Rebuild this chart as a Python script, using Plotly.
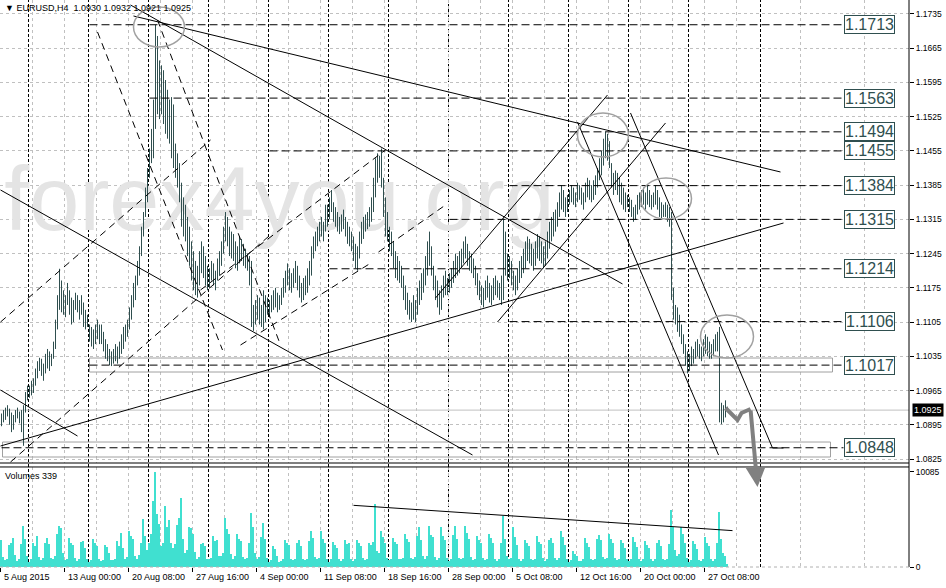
import plotly.graph_objects as go

# EURUSD H4 bars, bar 0 = 5 Aug 2015 16:00, last bar = 29 Oct 2015 04:00
highs = [
    1.0918, 1.0925,
    1.0930, 1.0935, 1.0928, 1.0920, 1.0915, 1.0925,
    1.0930, 1.0922, 1.0925, 1.0935, 1.0962, 1.0975,
    # week 10 Aug
    1.0975, 1.0985, 1.0990, 1.1010, 1.1025, 1.1032,
    1.1030, 1.1020, 1.1040, 1.1050, 1.1045, 1.1040,
    1.1065, 1.1110, 1.1160, 1.1214, 1.1190, 1.1170,
    1.1160, 1.1185, 1.1170, 1.1155, 1.1150, 1.1165,
    1.1160, 1.1150, 1.1160, 1.1145, 1.1130, 1.1120,
    # week 17 Aug
    1.1100, 1.1095, 1.1090, 1.1100, 1.1110, 1.1100,
    1.1100, 1.1085, 1.1070, 1.1060, 1.1050, 1.1045,
    1.1050, 1.1060, 1.1055, 1.1065, 1.1080, 1.1095,
    1.1100, 1.1110, 1.1135, 1.1160, 1.1185, 1.1200,
    1.1230, 1.1260, 1.1300, 1.1330, 1.1380, 1.1420,
    # week 24 Aug
    1.1460, 1.1500, 1.1560, 1.1713, 1.1690, 1.1640,
    1.1630, 1.1620, 1.1600, 1.1580, 1.1560, 1.1565,
    1.1550, 1.1470, 1.1450, 1.1430, 1.1390, 1.1360,
    1.1345, 1.1320, 1.1300, 1.1270, 1.1250, 1.1230,
    1.1220, 1.1250, 1.1270, 1.1260, 1.1240, 1.1220,
    # week 31 Aug
    1.1215, 1.1230, 1.1225, 1.1210, 1.1235, 1.1250,
    1.1270, 1.1300, 1.1330, 1.1320, 1.1300, 1.1290,
    1.1285, 1.1270, 1.1260, 1.1280, 1.1275, 1.1265,
    1.1255, 1.1245, 1.1240, 1.1230, 1.1140, 1.1150,
    1.1160, 1.1155, 1.1140, 1.1170, 1.1160, 1.1155,
    # week 7 Sep
    1.1150, 1.1160, 1.1170, 1.1175, 1.1165, 1.1160,
    1.1175, 1.1195, 1.1210, 1.1225, 1.1215, 1.1205,
    1.1215, 1.1230, 1.1220, 1.1200, 1.1185, 1.1195,
    1.1200, 1.1215, 1.1230, 1.1260, 1.1280, 1.1290,
    1.1300, 1.1310, 1.1320, 1.1310, 1.1345, 1.1345,
    # week 14 Sep
    1.1360, 1.1375, 1.1350, 1.1340, 1.1330, 1.1320,
    1.1325, 1.1335, 1.1320, 1.1310, 1.1300, 1.1290,
    1.1280, 1.1265, 1.1260, 1.1290, 1.1310, 1.1320,
    1.1325, 1.1330, 1.1340, 1.1360, 1.1400, 1.1440,
    1.1450, 1.1445, 1.1460, 1.1400, 1.1360, 1.1330,
    # week 21 Sep
    1.1300, 1.1290, 1.1270, 1.1250, 1.1240, 1.1230,
    1.1220, 1.1200, 1.1180, 1.1165, 1.1150, 1.1145,
    1.1160, 1.1150, 1.1175, 1.1190, 1.1205, 1.1215,
    1.1240, 1.1270, 1.1290, 1.1260, 1.1220, 1.1200,
    1.1190, 1.1170, 1.1180, 1.1200, 1.1210, 1.1195,
    # week 28 Sep
    1.1205, 1.1215, 1.1230, 1.1245, 1.1240, 1.1250,
    1.1255, 1.1270, 1.1280, 1.1265, 1.1250, 1.1245,
    1.1235, 1.1220, 1.1205, 1.1190, 1.1180, 1.1175,
    1.1190, 1.1200, 1.1185, 1.1180, 1.1195, 1.1200,
    1.1190, 1.1185, 1.1200, 1.1317, 1.1290, 1.1245,
    # week 5 Oct
    1.1240, 1.1230, 1.1210, 1.1200, 1.1215, 1.1230,
    1.1240, 1.1255, 1.1270, 1.1280, 1.1275, 1.1265,
    1.1255, 1.1270, 1.1285, 1.1280, 1.1270, 1.1260,
    1.1270, 1.1290, 1.1310, 1.1320, 1.1330, 1.1335,
    1.1350, 1.1370, 1.1385, 1.1375, 1.1360, 1.1365,
    # week 12 Oct
    1.1375, 1.1385, 1.1380, 1.1370, 1.1390, 1.1385,
    1.1380, 1.1370, 1.1390, 1.1400, 1.1395, 1.1385,
    1.1395, 1.1405, 1.1420, 1.1440, 1.1455, 1.1480,
    1.1495, 1.1490, 1.1475, 1.1430, 1.1410, 1.1415,
    1.1410, 1.1400, 1.1390, 1.1380, 1.1370, 1.1365,
    # week 19 Oct
    1.1360, 1.1355, 1.1340, 1.1345, 1.1365, 1.1370,
    1.1375, 1.1380, 1.1370, 1.1385, 1.1375, 1.1365,
    1.1370, 1.1385, 1.1375, 1.1360, 1.1350, 1.1345,
    1.1350, 1.1345, 1.1340, 1.1330, 1.1175, 1.1140,
    1.1135, 1.1120, 1.1100, 1.1080, 1.1060, 1.1045,
    # week 26 Oct
    1.1040, 1.1055, 1.1050, 1.1065, 1.1070, 1.1060,
    1.1055, 1.1070, 1.1080, 1.1075, 1.1065, 1.1060,
    1.1070, 1.1080, 1.1085, 1.1095, 1.0940, 1.0935,
    1.0945, 1.0932,
]

lows = [
    1.0892, 1.0900,
    1.0905, 1.0912, 1.0895, 1.0880, 1.0885, 1.0900,
    1.0908, 1.0898, 1.0880, 1.0852, 1.0920, 1.0945,
    # week 10 Aug
    1.0950, 1.0955, 1.0960, 1.0975, 1.0990, 1.1005,
    1.0995, 1.0985, 1.1000, 1.1010, 1.1005, 1.1015,
    1.1030, 1.1050, 1.1090, 1.1130, 1.1125, 1.1120,
    1.1115, 1.1140, 1.1120, 1.1100, 1.1105, 1.1130,
    1.1125, 1.1110, 1.1120, 1.1095, 1.1090, 1.1095,
    # week 17 Aug
    1.1065, 1.1055, 1.1050, 1.1060, 1.1070, 1.1060,
    1.1060, 1.1045, 1.1030, 1.1025, 1.1017, 1.1015,
    1.1020, 1.1025, 1.1020, 1.1030, 1.1040, 1.1050,
    1.1065, 1.1075, 1.1090, 1.1110, 1.1135, 1.1150,
    1.1180, 1.1200, 1.1240, 1.1280, 1.1320, 1.1350,
    # week 24 Aug
    1.1400, 1.1430, 1.1440, 1.1500, 1.1530, 1.1520,
    1.1530, 1.1510, 1.1490, 1.1480, 1.1470, 1.1440,
    1.1420, 1.1400, 1.1380, 1.1350, 1.1300, 1.1280,
    1.1270, 1.1240, 1.1220, 1.1190, 1.1170, 1.1160,
    1.1155, 1.1180, 1.1205, 1.1195, 1.1180, 1.1170,
    # week 31 Aug
    1.1175, 1.1190, 1.1180, 1.1170, 1.1190, 1.1200,
    1.1220, 1.1245, 1.1270, 1.1260, 1.1240, 1.1235,
    1.1230, 1.1215, 1.1210, 1.1225, 1.1230, 1.1220,
    1.1215, 1.1210, 1.1180, 1.1095, 1.1087, 1.1100,
    1.1110, 1.1100, 1.1095, 1.1090, 1.1105, 1.1120,
    # week 7 Sep
    1.1115, 1.1125, 1.1130, 1.1135, 1.1125, 1.1130,
    1.1140, 1.1155, 1.1165, 1.1180, 1.1170, 1.1165,
    1.1175, 1.1185, 1.1170, 1.1155, 1.1145, 1.1150,
    1.1160, 1.1165, 1.1180, 1.1200, 1.1235, 1.1250,
    1.1260, 1.1270, 1.1280, 1.1270, 1.1290, 1.1300,
    # week 14 Sep
    1.1315, 1.1330, 1.1310, 1.1300, 1.1290, 1.1285,
    1.1290, 1.1295, 1.1280, 1.1265, 1.1260, 1.1250,
    1.1230, 1.1215, 1.1210, 1.1235, 1.1265, 1.1275,
    1.1290, 1.1295, 1.1300, 1.1310, 1.1330, 1.1360,
    1.1390, 1.1400, 1.1380, 1.1320, 1.1280, 1.1270,
    # week 21 Sep
    1.1250, 1.1240, 1.1215, 1.1195, 1.1190, 1.1185,
    1.1175, 1.1150, 1.1130, 1.1120, 1.1110, 1.1105,
    1.1110, 1.1105, 1.1120, 1.1140, 1.1150, 1.1165,
    1.1180, 1.1200, 1.1220, 1.1200, 1.1170, 1.1150,
    1.1135, 1.1120, 1.1130, 1.1155, 1.1160, 1.1160,
    # week 28 Sep
    1.1165, 1.1175, 1.1185, 1.1195, 1.1200, 1.1205,
    1.1215, 1.1225, 1.1235, 1.1220, 1.1210, 1.1205,
    1.1195, 1.1180, 1.1160, 1.1150, 1.1140, 1.1135,
    1.1150, 1.1155, 1.1145, 1.1140, 1.1150, 1.1160,
    1.1155, 1.1150, 1.1140, 1.1150, 1.1200, 1.1190,
    # week 5 Oct
    1.1195, 1.1180, 1.1170, 1.1160, 1.1170, 1.1185,
    1.1195, 1.1205, 1.1215, 1.1230, 1.1225, 1.1220,
    1.1210, 1.1220, 1.1235, 1.1230, 1.1225, 1.1215,
    1.1220, 1.1235, 1.1255, 1.1270, 1.1280, 1.1290,
    1.1300, 1.1320, 1.1335, 1.1330, 1.1320, 1.1330,
    # week 12 Oct
    1.1345, 1.1350, 1.1345, 1.1340, 1.1350, 1.1355,
    1.1345, 1.1335, 1.1350, 1.1360, 1.1355, 1.1350,
    1.1355, 1.1365, 1.1380, 1.1395, 1.1405, 1.1425,
    1.1440, 1.1435, 1.1420, 1.1380, 1.1365, 1.1375,
    1.1365, 1.1350, 1.1345, 1.1335, 1.1330, 1.1340,
    # week 19 Oct
    1.1330, 1.1320, 1.1310, 1.1315, 1.1325, 1.1335,
    1.1340, 1.1345, 1.1335, 1.1345, 1.1340, 1.1335,
    1.1340, 1.1345, 1.1335, 1.1320, 1.1315, 1.1320,
    1.1320, 1.1310, 1.1300, 1.1150, 1.1110, 1.1100,
    1.1085, 1.1075, 1.1060, 1.1040, 1.1016, 1.1000,
    # week 26 Oct
    1.1005, 1.1015, 1.1020, 1.1030, 1.1035, 1.1030,
    1.1025, 1.1035, 1.1040, 1.1035, 1.1030, 1.1030,
    1.1035, 1.1045, 1.1045, 1.0900, 1.0896, 1.0900,
    1.0910, 1.0921,
]

volumes = [
    2900, 1100,
    700, 900, 2300, 2600, 3100, 1300,
    600, 800, 2400, 4400, 3000, 1200,
    500, 900, 2500, 2200, 3300, 1100,
    700, 1000, 2600, 3100, 2400, 1000,
    800, 1200, 3500, 4400, 4100, 1500,
    700, 900, 3100, 2500, 2300, 1000,
    600, 800, 2700, 2800, 2000, 800,
    500, 700, 3000, 2500, 2200, 900,
    600, 700, 2300, 2100, 1500, 700,
    700, 900, 2800, 2200, 3600, 2000,
    800, 1100, 3800, 3300, 3000, 1200,
    900, 1300, 2500, 5100, 3300, 1800,
    2600, 3500, 7000, 10085, 5600, 4600,
    2200, 2600, 6500, 4200, 5000, 2500,
    2000, 2400, 4500, 5200, 7300, 3000,
    1500, 1800, 4300, 4100, 3500, 1600,
    900, 1100, 2400, 2600, 2200, 900,
    800, 1000, 3300, 2800, 2900, 1200,
    1200, 1500, 5200, 4000, 3500, 1400,
    900, 1200, 3500, 3000, 2800, 1100,
    800, 1000, 2500, 5700, 4200, 1500,
    900, 1100, 3200, 4700, 3000, 1000,
    500, 700, 2200, 1900, 1200, 500,
    600, 800, 2900, 2500, 2300, 900,
    700, 900, 2600, 2900, 2200, 900,
    700, 900, 2800, 3800, 3100, 1100,
    800, 1000, 3800, 3000, 2600, 900,
    500, 800, 2700, 2300, 2000, 800,
    600, 800, 2900, 2400, 2500, 900,
    600, 900, 2900, 2500, 2200, 1000,
    700, 900, 2500, 2300, 2700, 6700,
    1700, 1500, 3800, 3200, 2600, 1000,
    700, 900, 3100, 2700, 2400, 900,
    800, 1000, 3500, 3000, 2700, 1000,
    800, 1100, 3300, 4200, 2900, 1200,
    900, 1200, 4400, 3400, 3200, 1100,
    700, 1000, 4200, 3300, 2900, 1000,
    600, 900, 3400, 4400, 3000, 1000,
    800, 1000, 4400, 3600, 3000, 1100,
    700, 900, 3300, 2900, 2600, 1000,
    700, 900, 3500, 3100, 2500, 900,
    600, 800, 2600, 5400, 3000, 1200,
    800, 1000, 4200, 3200, 2300, 900,
    600, 900, 2900, 2600, 2200, 900,
    700, 900, 3300, 2700, 2400, 1000,
    600, 900, 2900, 3100, 2500, 1000,
    700, 1000, 3800, 3200, 2300, 900,
    500, 700, 1700, 1400, 1200, 600,
    600, 900, 3100, 2600, 2100, 800,
    700, 900, 3000, 3350, 2900, 1100,
    800, 1000, 3550, 3000, 2600, 1000,
    700, 900, 2900, 2500, 2000, 800,
    600, 800, 3200, 2700, 2100, 800,
    600, 800, 2750, 2300, 2000, 800,
    600, 800, 2500, 2850, 2200, 900,
    700, 900, 2400, 6100, 4200, 1800,
    1200, 1400, 4200, 3500, 2600, 1000,
    500, 700, 2800, 2400, 1900, 700,
    600, 800, 3200, 2600, 2200, 800,
    600, 800, 2600, 5850, 3000, 1500,
    1200, 339,
]

price_ticks = [1.0825, 1.0895, 1.0965, 1.1035, 1.1105, 1.1175, 1.1245,
               1.1315, 1.1385, 1.1455, 1.1525, 1.1595, 1.1665, 1.1735]
time_label_bars = [0, 32, 64, 96, 128, 160, 192, 224, 256, 288, 320, 352]
time_labels = ["5 Aug 2015", "13 Aug 00:00", "20 Aug 08:00", "27 Aug 16:00",
               "4 Sep 00:00", "11 Sep 08:00", "18 Sep 16:00", "28 Sep 00:00",
               "5 Oct 08:00", "12 Oct 16:00", "20 Oct 00:00", "27 Oct 08:00"]
week_sep_bars = [14, 44, 74, 104, 134, 164, 194, 224, 254, 284, 314, 344, 380]

levels = [1.1713, 1.1563, 1.1494, 1.1455, 1.1384, 1.1315, 1.1214, 1.1106, 1.1017, 1.0848]
level_start = [44, 74, 284, 134, 254, 224, 164, 254, 44, 0]
level_end = 421
zones = [(44, 415.5, 1.10029, 1.10315), (0.5, 414.5, 1.08291, 1.08597)]

# trend lines: (bar1, price1, bar2, price2)
trend_solid = [
    (66, 1.17309, 389.5, 1.14119),
    (64.5, 1.17534, 310.5, 1.11829),
    (-0.5, 1.08516, 391, 1.13076),
    (-0.5, 1.13751, 235.5, 1.08332),
    (-0.5, 1.09661, 38, 1.08720),
    (217, 1.11542, 303, 1.15694),
    (248, 1.11051, 332, 1.15121),
    (288, 1.15141, 358.5, 1.08332),
    (314.5, 1.15326, 385.5, 1.08475),
    (385.5, 1.08475, 391, 1.08475),
]
trend_dashed = [
    (48, 1.16982, 110.5, 1.10479),
    (78, 1.17227, 139.5, 1.10581),
    (-0.5, 1.11051, 104.5, 1.14773),
    (4.5, 1.08188, 135.5, 1.12872),
    (119.5, 1.10581, 185.5, 1.12279),
    (99.5, 1.11706, 192, 1.14569),
    (188.5, 1.12483, 222, 1.13444),
]
circles = [
    (66, 91.5, 1.16675, 1.17493),
    (288, 313.5, 1.14426, 1.15326),
    (319.5, 345, 1.13158, 1.13996),
    (349.5, 376, 1.10315, 1.11194),
]
arrow_path = [(362, 1.09293), (368, 1.09048), (370, 1.09190), (374.5, 1.09272)]
arrow_tip = (378, 1.07677)
vol_trend = (176, 6545, 365.5, 3862)
bid = 1.0925

assert len(highs) == len(lows) == len(volumes)

FONT = "Liberation Sans, Arial, sans-serif"
BAR_COLOR = "#2F4F4F"

bx, by = [], []
for i, (h, l) in enumerate(zip(highs, lows)):
    bx += [i, i, None]
    by += [l, h, None]

fig = go.Figure()
fig.add_trace(go.Scatter(x=[139], y=[1.1340], mode="text", text=["forex4you.org"],
                         textfont=dict(size=90, color="#e4e4e4", family=FONT),
                         hoverinfo="skip", xaxis="x", yaxis="y"))
fig.add_trace(go.Scatter(x=bx, y=by, mode="lines", line=dict(color=BAR_COLOR, width=1),
                         hoverinfo="skip", xaxis="x", yaxis="y"))
fig.add_trace(go.Bar(x=list(range(len(volumes))), y=volumes, width=0.8,
                     marker=dict(color="#40E0D0", line=dict(width=0)),
                     hoverinfo="skip", xaxis="x", yaxis="y2"))
fig.add_trace(go.Scatter(x=[p[0] for p in arrow_path], y=[p[1] for p in arrow_path],
                         mode="lines", line=dict(color="#808080", width=4),
                         hoverinfo="skip", xaxis="x", yaxis="y"))

shapes = []
for b in week_sep_bars:
    shapes.append(dict(type="line", xref="x", yref="paper", x0=b - 0.5, x1=b - 0.5, y0=0, y1=1,
                       line=dict(color="black", width=1, dash="3px,2px"), layer="between"))
for lv, st in zip(levels, level_start):
    shapes.append(dict(type="line", xref="x", yref="y", x0=st, x1=level_end, y0=lv, y1=lv,
                       line=dict(color="black", width=1, dash="8px,4px")))
for x0, x1, y0, y1 in zones:
    shapes.append(dict(type="rect", xref="x", yref="y", x0=x0, x1=x1, y0=y0, y1=y1,
                       line=dict(color="#a0a0a0", width=1), layer="between"))
for x0, y0, x1, y1 in trend_solid:
    shapes.append(dict(type="line", xref="x", yref="y", x0=x0, x1=x1, y0=y0, y1=y1,
                       line=dict(color="black", width=1)))
for x0, y0, x1, y1 in trend_dashed:
    shapes.append(dict(type="line", xref="x", yref="y", x0=x0, x1=x1, y0=y0, y1=y1,
                       line=dict(color="black", width=1, dash="7px,5px")))
for x0, x1, y0, y1 in circles:
    shapes.append(dict(type="circle", xref="x", yref="y", x0=x0, x1=x1, y0=y0, y1=y1,
                       line=dict(color="#a0a0a0", width=1.5)))
shapes.append(dict(type="line", xref="paper", yref="y", x0=0, x1=1, y0=bid, y1=bid,
                   line=dict(color="#c0c0c0", width=1), layer="between"))
shapes.append(dict(type="line", xref="x", yref="y2", x0=vol_trend[0], x1=vol_trend[2],
                   y0=vol_trend[1], y1=vol_trend[3], line=dict(color="black", width=1)))
# panel frames
shapes.append(dict(type="line", xref="paper", yref="paper", x0=1, x1=1, y0=0, y1=1,
                   line=dict(color="black", width=1)))
shapes.append(dict(type="line", xref="paper", yref="y domain", x0=0, x1=1, y0=0, y1=0,
                   line=dict(color="black", width=1)))
shapes.append(dict(type="line", xref="paper", yref="y2 domain", x0=0, x1=1, y0=1, y1=1,
                   line=dict(color="black", width=1)))
shapes.append(dict(type="line", xref="paper", yref="y2 domain", x0=0, x1=1, y0=0, y1=0,
                   line=dict(color="#b0b0b0", width=1, dash="3px,3px")))

annotations = []
for lv in levels:
    annotations.append(dict(x=434, y=lv, xref="x", yref="y", text="%.4f" % lv, showarrow=False,
                            font=dict(size=16, color=BAR_COLOR, family=FONT),
                            bgcolor="white", bordercolor=BAR_COLOR, borderwidth=1, borderpad=0))
for b, t in zip(time_label_bars, time_labels):
    annotations.append(dict(x=b - 0.5, y=0, xref="x", yref="paper", text=t, showarrow=False,
                            xanchor="left", yanchor="middle", yshift=-10, xshift=1,
                            font=dict(size=9, color="black", family=FONT)))
annotations.append(dict(x=1, y=bid, xref="paper", yref="y", text="1.0925", showarrow=False,
                        xanchor="left", xshift=3, bgcolor="black", borderpad=1,
                        font=dict(size=9, color="white", family=FONT)))
annotations.append(dict(x=0, y=1, xref="paper", yref="paper", showarrow=False,
                        text="\u25bc EURUSD,H4\u00a0\u00a01.0930 1.0932 1.0921 1.0925",
                        xanchor="left", yanchor="top", xshift=3, yshift=-1,
                        font=dict(size=9, color="black", family=FONT)))
annotations.append(dict(x=0, y=1, xref="paper", yref="y2 domain", showarrow=False,
                        text="Volumes 339", xanchor="left", yanchor="top", xshift=3, yshift=-2,
                        font=dict(size=9, color="black", family=FONT)))
annotations.append(dict(x=arrow_tip[0], y=arrow_tip[1], ax=arrow_path[-1][0], ay=arrow_path[-1][1],
                        xref="x", yref="y", axref="x", ayref="y", showarrow=True, text="",
                        arrowhead=2, arrowsize=1, arrowwidth=4, arrowcolor="#808080"))

fig.update_layout(
    width=946, height=588,
    margin=dict(l=0, r=37, t=0, b=21),
    paper_bgcolor="white", plot_bgcolor="white",
    showlegend=False, bargap=0,
    shapes=shapes, annotations=annotations,
    xaxis=dict(domain=[0, 1], range=[-0.75, 453.75], anchor="y2",
               tickvals=[b - 0.5 for b in time_label_bars],
               showticklabels=False, ticks="outside", ticklen=4, tickcolor="black",
               showgrid=True, gridcolor="#c0c0c0", griddash="3px,3px",
               minor=dict(tickvals=[15.5 + 32 * k for k in range(14)], ticks="",
                          showgrid=True, gridcolor="#c0c0c0", griddash="3px,3px"),
               zeroline=False, showline=False),
    yaxis=dict(domain=[0.1834, 1], range=[1.08168, 1.17636], anchor="x", side="right",
               tickvals=price_ticks, ticktext=["%.4f" % v for v in price_ticks],
               ticks="outside", ticklen=4, tickcolor="black",
               tickfont=dict(size=8.5, color="black", family=FONT),
               showgrid=True, gridcolor="#c0c0c0", griddash="3px,3px",
               zeroline=False, showline=False),
    yaxis2=dict(domain=[0, 0.1764], range=[0, 10616], anchor="x", side="right",
                tickvals=[0, 10085], ticktext=["0", "10085"],
                ticks="outside", ticklen=4, tickcolor="black",
                tickfont=dict(size=8.5, color="black", family=FONT),
                showgrid=False, zeroline=False, showline=False),
)

fig.write_html("out.html", config={"displayModeBar": False},
               post_script="document.body.style.margin='0px';")
